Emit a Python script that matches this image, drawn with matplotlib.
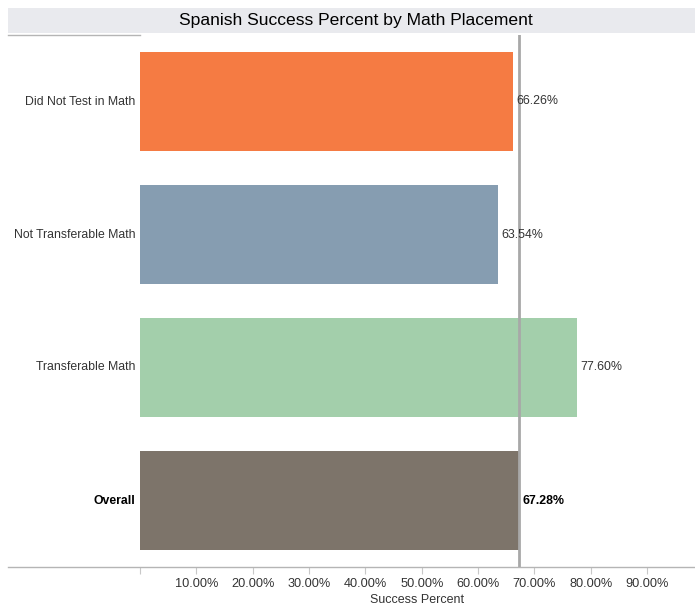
import matplotlib.pyplot as plt
from matplotlib.lines import Line2D
from matplotlib.patches import Rectangle

categories = ['Did Not Test in Math', 'Not Transferable Math', 'Transferable Math', 'Overall']
success = [66.26, 63.54, 77.60, 67.28]
colors = ['#f57b43', '#869db1', '#a3cfab', '#7d746a']
overall = 67.28
ticks = [0, 10, 20, 30, 40, 50, 60, 70, 80, 90]

W, H = 695, 611
fig = plt.figure(figsize=(W / 100, H / 100), dpi=100)

def fx(px):
    return px / W

def fy(py):
    return 1 - py / H

# title band
fig.add_artist(Rectangle((fx(8), fy(33)), fx(695) - fx(8), fy(8) - fy(33),
                         transform=fig.transFigure, facecolor='#e9eaee', edgecolor='none'))
fig.text(fx(356), fy(20), 'Spanish Success Percent by Math Placement',
         ha='center', va='center', fontsize=12.6, family='Liberation Sans')

ax = fig.add_axes([fx(140), fy(567), fx(695) - fx(140), fy(35) - fy(567)])

y = list(range(len(categories)))
ax.barh(y, success, height=0.75, color=colors, edgecolor='none')
ax.set_ylim(len(categories) - 0.5, -0.5)
ax.set_xlim(0, 98.5)

ax.axvline(overall, color='#a8a8a8', lw=2, zorder=3)

for i, (v, c) in enumerate(zip(success, categories)):
    bold = c == 'Overall'
    ax.text(v + 0.6, i, f'{v:.2f}%', va='center', ha='left', fontsize=8.9,
            family='Liberation Sans', fontweight='bold' if bold else 'normal',
            color='black' if bold else '#333333', zorder=4)
    fig.text(fx(135), ax.transData.transform((0, i))[1] / H, c, ha='right', va='center',
             fontsize=8.8, family='Liberation Sans', fontweight='bold' if bold else 'normal',
             color='black' if bold else '#333333')

for s in ax.spines.values():
    s.set_visible(False)
ax.set_yticks([])
ax.set_xticks(ticks)
ax.set_xticklabels(['' if t == 0 else f'{t:.2f}%' for t in ticks], fontsize=9.2,
                   family='Liberation Sans', color='#333333')
ax.tick_params(axis='x', length=5, color='#c8c8c8', pad=3)
ax.set_xlabel('Success Percent', fontsize=9, family='Liberation Sans', color='#333333', labelpad=3)

# separator lines
fig.add_artist(Line2D([fx(8), fx(695)], [fy(567), fy(567)], color='#b5b5b5', lw=1))
fig.add_artist(Line2D([fx(8), fx(140)], [fy(35), fy(35)], color='#b5b5b5', lw=1))

fig.savefig('out.png', dpi=100)
